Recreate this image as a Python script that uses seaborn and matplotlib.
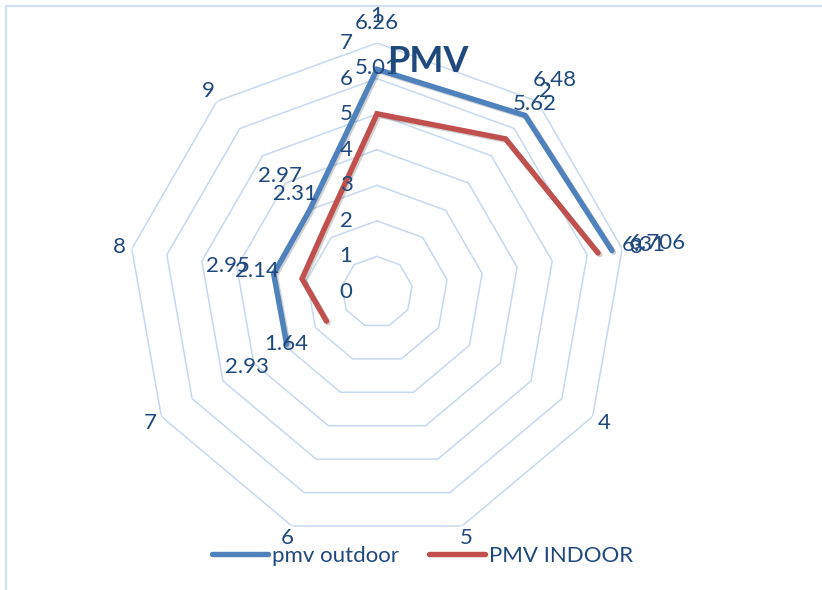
import numpy as np
import pandas as pd
import matplotlib
matplotlib.use("Agg")
import matplotlib.pyplot as plt
import matplotlib.patheffects as pe
from matplotlib.lines import Line2D
import seaborn as sns

# ---- data -------------------------------------------------------------
categories = ["1", "2", "3", "4", "5", "6", "7", "8", "9"]
pmv_outdoor = [6.26, 6.48, 6.706, None, None, None, 2.93, 2.95, 2.97]
pmv_indoor = [5.01, 5.62, 6.31, None, None, None, 1.64, 2.14, 2.31]
ring_ticks = [0, 1, 2, 3, 4, 5, 6, 7]
series_names = ["pmv outdoor", "PMV INDOOR"]
title = "PMV"

# ---- style ------------------------------------------------------------
sns.set_theme(style="white")
plt.rcParams["font.family"] = ["Lato", "DejaVu Sans"]
TEXT = "#1F497D"
GRID = "#C6D8EF"
COLORS = {"pmv outdoor": "#4F81BD", "PMV INDOOR": "#C0504D"}
FS = 16

W, H, DPI = 822, 590, 100
fig = plt.figure(figsize=(W / DPI, H / DPI), dpi=DPI)
fig.patch.set_facecolor("white")

# polar axes: centre (377, 292) px, outer ring radius 249 px
cx, cy, R = 377, 292, 249
ax = fig.add_axes([(cx - R) / W, (H - cy - R) / H, 2 * R / W, 2 * R / H],
                  projection="polar")
ax.set_theta_zero_location("N")
ax.set_theta_direction(-1)
ax.grid(False)
ax.spines["polar"].set_visible(False)
ax.set_facecolor("none")

n = len(categories)
theta = 2 * np.pi * np.arange(n) / n

# nonagon gridlines
for k in ring_ticks[1:]:
    ax.plot(np.append(theta, theta[0]), [k] * (n + 1), color=GRID, lw=1.1,
            zorder=1, solid_joinstyle="miter")


def run_frame(values, name):
    """Rows for one series, ordered as a contiguous run across the gap."""
    valid = [i for i in range(n) if values[i] is not None]
    start = next(i for i in valid if values[(i - 1) % n] is None)
    order = sorted(valid, key=lambda i: (i - start) % n)
    th = [theta[i] + (2 * np.pi if i < start else 0) for i in order]
    return pd.DataFrame({"theta": th,
                         "value": [values[i] for i in order],
                         "series": name,
                         "cat": order})


df = pd.concat([run_frame(pmv_outdoor, series_names[0]),
                run_frame(pmv_indoor, series_names[1])], ignore_index=True)

sns.lineplot(data=df, x="theta", y="value", hue="series", palette=COLORS,
             sort=False, estimator=None, ax=ax, legend=False, lw=3.9,
             solid_capstyle="round", solid_joinstyle="miter", zorder=3,
             path_effects=[pe.SimpleLineShadow(offset=(1.2, -1.2),
                                               shadow_color="black", alpha=0.18),
                           pe.Normal()])

ax.set_ylim(0, ring_ticks[-1])
ax.set_xticks([])
ax.set_yticks([])
ax.set_xlabel("")
ax.set_ylabel("")

px2pt = 72 / DPI

# radial tick labels, left of the first spoke
for k in ring_ticks:
    ax.annotate(str(k), xy=(0, k), xytext=(-31 * px2pt, 0),
                textcoords="offset points", ha="center", va="center",
                color=TEXT, fontsize=FS, annotation_clip=False)

# category labels outside the outer ring
for i, c in enumerate(categories):
    off = (27 if np.cos(theta[i]) > 0.99 else 13) * px2pt
    ax.annotate(c, xy=(theta[i], ring_ticks[-1]),
                xytext=(off * np.sin(theta[i]), off * np.cos(theta[i])),
                textcoords="offset points", ha="center", va="center",
                color=TEXT, fontsize=FS, annotation_clip=False)

# data labels, pushed outward along each spoke
for _, row in df.iterrows():
    t = theta[int(row["cat"])]
    off = 46 * px2pt
    ax.annotate(f"{row['value']:g}", xy=(t, row["value"]),
                xytext=(off * np.sin(t), off * np.cos(t)),
                textcoords="offset points", ha="center", va="center",
                color=TEXT, fontsize=FS, zorder=5, annotation_clip=False)

# title
fig.text(428 / W, 1 - 62 / H, title, ha="center", va="center",
         fontsize=26, fontweight="bold", color=TEXT, zorder=10)

# legend
handles = [Line2D([], [], color=COLORS[s], lw=3.9, solid_capstyle="round")
           for s in series_names]
leg = fig.legend(handles, series_names, loc="center",
                 bbox_to_anchor=(423 / W, 1 - 556 / H), ncol=2, frameon=False,
                 fontsize=FS, handlelength=2.5, handletextpad=0.2,
                 columnspacing=1.35)
for t in leg.get_texts():
    t.set_color(TEXT)

# chart frame (left and top edges visible)
fig.add_artist(Line2D([6 / W, 6 / W], [0, 1 - 6 / H], transform=fig.transFigure,
                      color="#D3E0F2", lw=1.6))
fig.add_artist(Line2D([6 / W, 1], [1 - 6 / H, 1 - 6 / H], transform=fig.transFigure,
                      color="#D3E0F2", lw=1.6))

fig.savefig("out.png", dpi=DPI)
